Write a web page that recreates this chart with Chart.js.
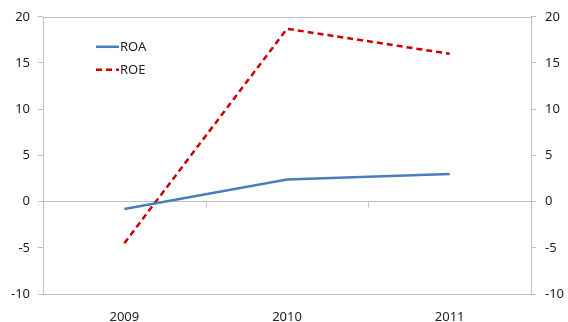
<!DOCTYPE html>
<html>
<head>
<meta charset="utf-8">
<script src="https://cdn.jsdelivr.net/npm/chart.js@4"></script>
<style>
  html, body { margin: 0; padding: 0; background: #fff; }
  #wrap { width: 568px; height: 322px; }
</style>
</head>
<body>
<div id="wrap"><canvas id="grafico"></canvas></div>
<script>
const years = ['2009', '2010', '2011'];
const roa = [-0.8, 2.4, 3.0];
const roe = [-4.5, 18.7, 16.0];
const yTicks = [-10, -5, 0, 5, 10, 15, 20];

const axisGray = '#bfbfbf';
const fontTicks = { family: "'Noto Sans', sans-serif", size: 13 };

// box, boundary ticks on the zero line, legend inside the plot
const extras = {
    id: 'extras',
    afterDraw(chart) {
        const { ctx, chartArea: a, scales } = chart;
        ctx.save();
        ctx.strokeStyle = axisGray;
        ctx.lineWidth = 1;
        ctx.strokeRect(Math.round(a.left) + 0.5, Math.round(a.top) + 0.5,
            Math.round(a.right - a.left), Math.round(a.bottom - a.top));

        const y0 = Math.round(scales.y.getPixelForValue(0)) + 0.5;
        for (let i = 0; i < years.length - 1; i++) {
            const xm = Math.round((scales.x.getPixelForValue(i) + scales.x.getPixelForValue(i + 1)) / 2) + 0.5;
            ctx.beginPath();
            ctx.moveTo(xm, y0);
            ctx.lineTo(xm, y0 + 5);
            ctx.stroke();
        }

        ctx.font = "13px 'Noto Sans', sans-serif";
        ctx.textBaseline = 'middle';
        ctx.fillStyle = '#222';
        chart.data.datasets.forEach((ds, i) => {
            const yy = a.top + 30 + i * 23;
            ctx.beginPath();
            ctx.strokeStyle = ds.borderColor;
            ctx.lineWidth = ds.borderWidth;
            ctx.setLineDash(ds.borderDash || []);
            ctx.moveTo(a.left + 53, yy);
            ctx.lineTo(a.left + 76, yy);
            ctx.stroke();
            ctx.setLineDash([]);
            ctx.fillText(ds.label, a.left + 77, yy);
        });
        ctx.restore();
    }
};

const yCommon = {
    min: -10,
    max: 20,
    afterBuildTicks: s => { s.ticks = yTicks.map(v => ({ value: v })); },
    border: { display: false },
    ticks: { color: '#222', font: fontTicks }
};

new Chart(document.getElementById('grafico'), {
    type: 'line',
    data: {
        labels: years,
        datasets: [
            {
                label: 'ROA',
                data: roa,
                borderColor: '#4a7ebb',
                borderWidth: 2.5,
                pointRadius: 0,
                tension: 0,
                yAxisID: 'y'
            },
            {
                label: 'ROE',
                data: roe,
                borderColor: '#cc0000',
                borderWidth: 2.5,
                borderDash: [6, 4],
                pointRadius: 0,
                tension: 0,
                yAxisID: 'y'
            }
        ]
    },
    options: {
        responsive: true,
        maintainAspectRatio: false,
        animation: false,
        layout: { padding: { top: 16, left: 0, right: 0, bottom: 0 } },
        plugins: { legend: { display: false }, tooltip: { enabled: false } },
        scales: {
            x: {
                offset: true,
                grid: { display: false },
                border: { display: false },
                ticks: { color: '#222', font: fontTicks, padding: 7 },
                afterFit: s => { s.height = 28; }
            },
            y: Object.assign({}, yCommon, {
                position: 'left',
                grid: {
                    color: c => (c.tick && c.tick.value === 0 ? axisGray : 'transparent'),
                    tickColor: axisGray,
                    tickLength: 5
                },
                ticks: Object.assign({}, yCommon.ticks, { padding: 8 }),
                afterFit: s => { s.width = 43; }
            }),
            y2: Object.assign({}, yCommon, {
                position: 'right',
                grid: { drawOnChartArea: false, tickColor: axisGray, tickLength: 5 },
                ticks: Object.assign({}, yCommon.ticks, { padding: 9 }),
                afterFit: s => { s.width = 37; }
            })
        }
    },
    plugins: [extras]
});
</script>
</body>
</html>
